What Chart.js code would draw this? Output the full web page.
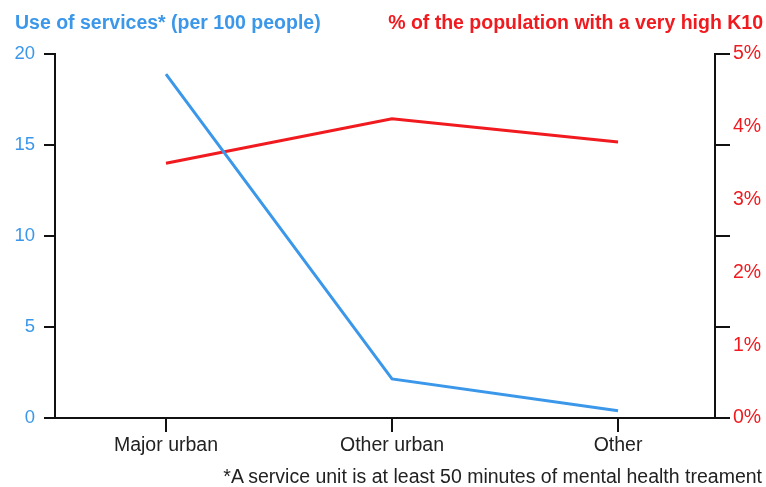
<!DOCTYPE html>
<html>
<head>
<meta charset="utf-8">
<script src="https://cdn.jsdelivr.net/npm/chart.js@4"></script>
<style>
  html, body { margin: 0; padding: 0; background: #fff; }
  #wrap { position: relative; width: 766px; height: 487px; font-family: "Liberation Sans", Arial, sans-serif; }
  #chart { position: absolute; left: 0; top: 0; }
  .title { position: absolute; top: 11px; font-weight: bold; font-size: 19.5px; white-space: nowrap; }
  #tLeft { left: 15px; color: #3b97e9; }
  #tRight { right: 3px; color: #f01a1f; }
  #note { position: absolute; right: 4px; top: 465px; font-size: 19.5px; color: #222; white-space: nowrap; }
</style>
</head>
<body>
<div id="wrap">
  <canvas id="chart" width="766" height="487"></canvas>
  <div class="title" id="tLeft">Use of services* (per 100 people)</div>
  <div class="title" id="tRight">% of the population with a very high K10</div>
  <div id="note">*A service unit is at least 50 minutes of mental health treament</div>
</div>
<script>
// categories along the bottom
var categories = ["Major urban", "Other urban", "Other"];
// use of services per 100 people (left axis)
var useOfServices = [18.9, 2.15, 0.4];
// % of population with very high K10 (right axis)
var highK10 = [3.5, 4.11, 3.79];

var leftTicks = [0, 5, 10, 15, 20];
var rightTicks = [0, 1, 2, 3, 4, 5];

var BLUE = "#3b97e9";
var RED = "#f01a1f";
var INK = "#111";

// right axis tick marks sit where the left axis ticks are
var rightTickMarks = {
  id: "rightTickMarks",
  afterDraw: function (chart) {
    var ctx = chart.ctx;
    var y = chart.scales.y;
    var x0 = chart.chartArea.right;
    ctx.save();
    ctx.strokeStyle = INK;
    ctx.lineWidth = 2;
    leftTicks.forEach(function (v) {
      var py = Math.round(y.getPixelForValue(v));
      ctx.beginPath();
      ctx.moveTo(x0 - 1, py);
      ctx.lineTo(x0 + 15, py);
      ctx.stroke();
    });
    ctx.restore();
  }
};

var ctx = document.getElementById("chart").getContext("2d");
var chart = new Chart(ctx, {
  type: "line",
  data: {
    datasets: [
      {
        label: "Use of services",
        data: categories.map(function (c, i) { return { x: i, y: useOfServices[i] }; }),
        borderColor: BLUE,
        borderWidth: 3,
        pointRadius: 0,
        fill: false,
        yAxisID: "y"
      },
      {
        label: "Very high K10",
        data: categories.map(function (c, i) { return { x: i, y: highK10[i] }; }),
        borderColor: RED,
        borderWidth: 3,
        pointRadius: 0,
        fill: false,
        yAxisID: "y1"
      }
    ]
  },
  options: {
    responsive: false,
    animation: false,
    layout: { padding: { top: 54, left: 0, right: 0, bottom: 0 } },
    plugins: {
      legend: { display: false },
      tooltip: { enabled: false }
    },
    scales: {
      x: {
        type: "linear",
        position: "bottom",
        min: -0.491,
        max: 2.429,
        afterBuildTicks: function (scale) {
          scale.ticks = categories.map(function (c, i) { return { value: i }; });
        },
        afterFit: function (scale) { scale.height = 69; },
        grid: { drawOnChartArea: false, color: INK, lineWidth: 2, tickLength: 14 },
        border: { display: true, color: INK, width: 2 },
        ticks: {
          color: "#222",
          font: { family: "Liberation Sans", size: 19.5 },
          padding: 2,
          maxRotation: 0,
          callback: function (v) { return categories[v] !== undefined ? categories[v] : ""; }
        }
      },
      y: {
        position: "left",
        min: 0,
        max: 20,
        afterBuildTicks: function (scale) {
          scale.ticks = leftTicks.map(function (v) { return { value: v }; });
        },
        afterFit: function (scale) { scale.width = 55; },
        grid: { drawOnChartArea: false, color: INK, lineWidth: 2, tickLength: 11 },
        border: { display: true, color: INK, width: 2 },
        ticks: {
          color: BLUE,
          font: { family: "Liberation Sans", size: 18.5 },
          padding: 9
        }
      },
      y1: {
        position: "right",
        min: 0,
        max: 5,
        afterBuildTicks: function (scale) {
          scale.ticks = rightTicks.map(function (v) { return { value: v }; });
        },
        afterFit: function (scale) { scale.width = 51; },
        grid: { display: false, drawTicks: false },
        border: { display: true, color: INK, width: 2 },
        ticks: {
          color: RED,
          font: { family: "Liberation Sans", size: 19.5 },
          padding: 18,
          callback: function (v) { return v + "%"; }
        }
      }
    }
  },
  plugins: [rightTickMarks]
});
</script>
</body>
</html>
